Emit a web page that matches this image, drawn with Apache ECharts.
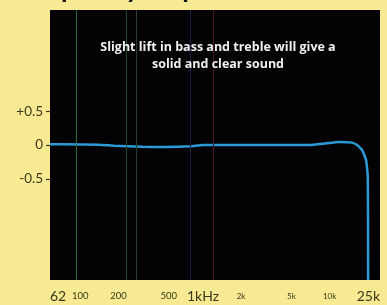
<!DOCTYPE html>
<html>
<head>
<meta charset="utf-8">
<style>
  html, body { margin: 0; padding: 0; background: #f7ea92; }
  #chart { width: 387px; height: 305px; }
</style>
<script src="https://cdn.jsdelivr.net/npm/echarts@6/dist/echarts.min.js"></script>
</head>
<body>
<div id="chart"></div>
<script>
// data
var freqs = [62, 80, 150, 200, 330, 500, 800, 1000, 2000, 4000, 7000, 9000, 12000, 15000, 16500, 18000, 19400, 20000, 20100, 20150]
var levels = [0.01, 0.01, 0.005, -0.01, -0.025, -0.03, -0.02, 0.0, 0.0, 0.0, 0.0, 0.02, 0.045, 0.035, 0.0, -0.07, -0.22, -0.45, -1.0, -2.0]
var xTicks = [62, 100, 200, 500, 1000, 2000, 5000, 10000, 25000]
var xTickText = ['62', '100', '200', '500', '1kHz', '2k', '5k', '10k', '25k']
var yTicks = [-0.5, 0, 0.5]
var yTickText = ['-0.5', '0', '+0.5']
var guideFreqs = [100, 250, 300, 800, 1200]
var guideColors = ['#2a6a38', '#1d4a28', '#283f2e', '#221c4e', '#4a1822'] // 背景竖线颜色

var big = { '62': 1, '1kHz': 1, '25k': 1 }

var chart = echarts.init(document.getElementById('chart'))
var option = {
    backgroundColor: '#f7ea92',
    graphic: [{
        type: 'text',
        x: 14,
        y: 3,
        style: {
            text: 'Frequency response',
            font: 'bold 27px Lato',
            fill: '#111',
            verticalAlign: 'bottom'
        },
        z: -1
    }],
    title: {
        text: 'Slight lift in bass and treble will give a\nsolid and clear sound',
        left: 213,
        top: 34,
        textAlign: 'center',
        textStyle: {
            color: '#f0f0f0',
            fontFamily: 'Open Sans',
            fontWeight: 'bold',
            fontSize: 12.5,
            lineHeight: 17
        }
    },
    grid: {
        left: 50,
        right: 7,
        top: 10,
        bottom: 25,
        show: true,
        backgroundColor: '#030306',
        borderWidth: 0
    },
    xAxis: {
        type: 'log',
        logBase: 10,
        min: 62,
        max: 25000,
        axisLine: { show: false },
        axisTick: { show: false },
        splitLine: { show: false },
        axisLabel: {
            customValues: xTicks,
            margin: 16,
            verticalAlign: 'middle',
            alignMinLabel: 'left',
            alignMaxLabel: 'right',
            formatter: function(v) {
                var t = xTickText[xTicks.indexOf(v)]
                if (big[t]) return '{b|' + t + '}'
                if (t.indexOf('k') > 0) return '{s|' + t + '}'
                return '{m|' + t + '}'
            },
            rich: {
                b: { fontSize: 14, fontFamily: 'Lato', color: '#3b381c' },
                m: { fontSize: 9.5, fontFamily: 'Lato', color: '#3b381c', padding: [0, 0, 0, 8] },
                s: { fontSize: 8, fontFamily: 'Lato', color: '#3b381c' }
            }
        }
    },
    yAxis: {
        type: 'value',
        min: -2,
        max: 2,
        axisLine: { show: false },
        splitLine: { show: false },
        axisTick: {
            show: true,
            customValues: yTicks,
            length: 4,
            lineStyle: { color: '#3b381c', width: 1.2 }
        },
        axisLabel: {
            customValues: yTicks,
            margin: 7,
            fontSize: 13.5,
            fontFamily: 'Lato',
            color: '#3b381c',
            formatter: function(v) {
                return yTickText[yTicks.indexOf(v)]
            }
        }
    },
    series: [{
        type: 'line',
        data: freqs.map(function(f, i) { return [f, levels[i]] }),
        showSymbol: false,
        smooth: 0.1,
        lineStyle: { color: '#2b9ad6', width: 2.5 },
        markLine: {
            silent: true,
            symbol: 'none',
            label: { show: false },
            data: guideFreqs.map(function(f, i) {
                return { xAxis: f, lineStyle: { color: guideColors[i], width: 1, type: 'solid' } }
            })
        },
        z: 3
    }]
}
chart.setOption(option)
</script>
</body>
</html>
